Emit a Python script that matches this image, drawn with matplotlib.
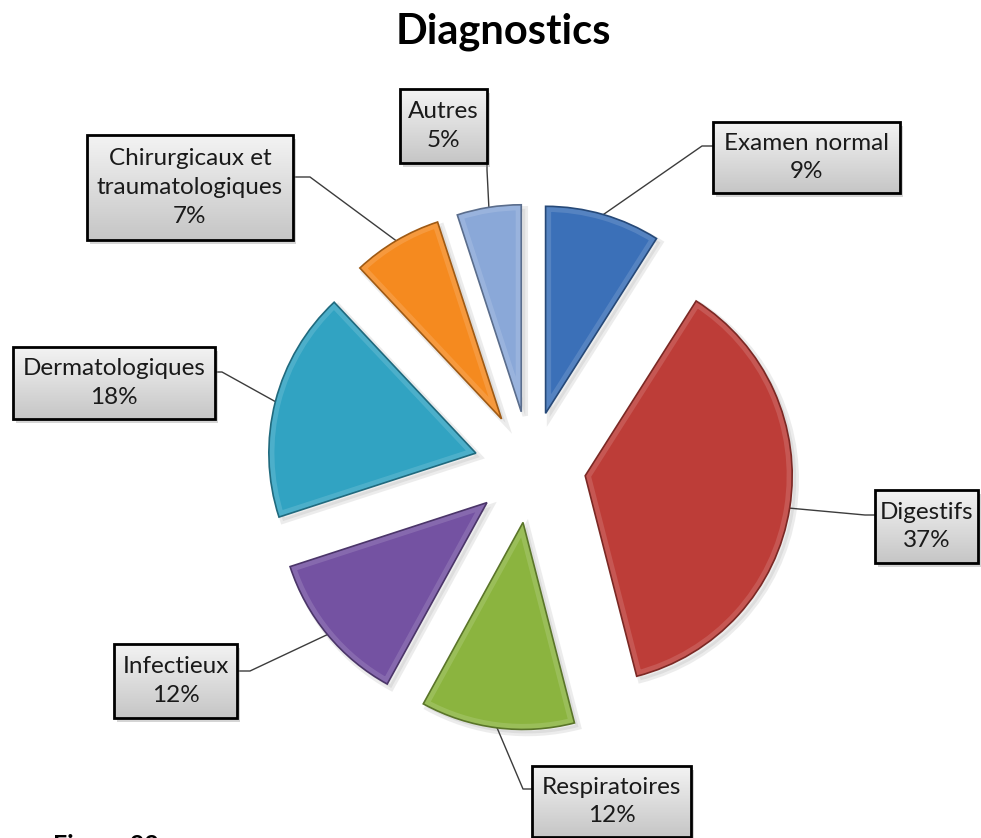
import numpy as np
import matplotlib
matplotlib.use("Agg")
import matplotlib.pyplot as plt
from matplotlib.patches import Wedge, Rectangle
from matplotlib.colors import to_rgb, LinearSegmentedColormap

plt.rcParams['font.family'] = ['Lato', 'DejaVu Sans']

labels = ['Examen normal', 'Digestifs', 'Respiratoires', 'Infectieux',
          'Dermatologiques', 'Chirurgicaux et\ntraumatologiques', 'Autres']
values = [9, 37, 12, 12, 18, 7, 5]
colors = ['#3b70b8', '#bd3d38', '#8bb43f', '#7452a2', '#31a3c2', '#f58a1f', '#8aa8d8']

# layout, in pixels of the 981x838 picture (y down)
W, H = 981, 838
CX, CY, R = 530, 467, 207
boxes = [(713, 122, 900, 193), (875, 490, 978, 563), (532, 766, 691, 837),
         (114, 644, 237, 718), (13, 347, 215, 419), (87, 135, 293, 240),
         (400, 89, 487, 163)]
leaders = [((713, 146), (702, 146)), ((875, 515), (865, 515)),
           ((532, 789), (523, 789)), ((237, 671), (250, 671)),
           ((215, 372), (222, 372)), ((293, 177), (310, 177)),
           ((487, 163), (487, 170))]


def px(x, y):
    return (x - CX) / R, (CY - y) / R


def mix(c, t, k):
    c = np.array(to_rgb(c))
    return tuple(c + (np.array(t) - c) * k)


fig = plt.figure(figsize=(W / 100, H / 100), dpi=100)
ax = fig.add_axes([0, 0, 1, 1])

wedges, _ = ax.pie(values, colors=colors, startangle=90, counterclock=False,
                   explode=[0.27] * len(values), radius=1,
                   wedgeprops=dict(linewidth=0))

for w, c in zip(wedges, colors):
    w.set_zorder(3)
    (x, y), r = w.center, w.r
    sh = Wedge((x + 4 / R, y - 4 / R), r, w.theta1, w.theta2,
               facecolor='#999999', edgecolor='#999999', linewidth=4,
               alpha=0.18, zorder=2)
    ax.add_patch(sh)
    hl = Wedge((x, y), r, w.theta1, w.theta2, facecolor='none',
               edgecolor=mix(c, (1, 1, 1), 0.3), linewidth=8, alpha=0.45,
               zorder=3.5)
    ax.add_patch(hl)
    hl.set_clip_path(w)
    ed = Wedge((x, y), r, w.theta1, w.theta2, facecolor='none',
               edgecolor=mix(c, (0, 0, 0), 0.35), linewidth=1.2, zorder=3.6)
    ax.add_patch(ed)

# leader lines from the middle of each arc
for w, (start, elbow) in zip(wedges, leaders):
    (x, y), r = w.center, w.r
    mid = np.deg2rad((w.theta1 + w.theta2) / 2)
    ax_pt = (x + r * np.cos(mid), y + r * np.sin(mid))
    p0, p1 = px(*start), px(*elbow)
    ax.plot([p0[0], p1[0], ax_pt[0]], [p0[1], p1[1], ax_pt[1]],
            color='#3c3c3c', linewidth=1.0, zorder=2.5)

cmap = LinearSegmentedColormap.from_list('box', ['#f3f3f3', '#c6c6c6'])
grad = np.linspace(0, 1, 64).reshape(-1, 1)
for (l, t, rr, b), lab, v in zip(boxes, labels, values):
    x0, y1 = px(l, t)
    x1, y0 = px(rr, b)
    ax.add_patch(Rectangle((x0 + 3 / R, y0 - 4 / R), x1 - x0, y1 - y0,
                           facecolor='#888888', alpha=0.35, linewidth=0,
                           zorder=4))
    ax.imshow(grad, extent=(x0, x1, y0, y1), origin='upper', aspect='auto',
              cmap=cmap, zorder=5)
    ax.add_patch(Rectangle((x0, y0), x1 - x0, y1 - y0, facecolor='none',
                           edgecolor='black', linewidth=2.0, zorder=6))
    cx, cy = px((l + rr) / 2, (t + b) / 2)
    ax.text(cx, cy, f'{lab}\n{v}%', ha='center', va='center', fontsize=17.5,
            color='#1a1a1a', linespacing=1.45, zorder=7)

tx, ty = px(503, 44)
ax.text(tx, ty, 'Diagnostics', ha='center', va='baseline', fontsize=30,
        fontweight='bold', color='black')
fx, fy = px(53, 834)
ax.text(fx, fy, 'Figure 22', ha='left', va='top', fontsize=18,
        fontweight='bold', color='black')

x_lo, y_hi = px(0, 0)
x_hi, y_lo = px(W, H)
ax.set_xlim(x_lo, x_hi)
ax.set_ylim(y_lo, y_hi)
ax.axis('off')

fig.savefig('out.png', dpi=100)
